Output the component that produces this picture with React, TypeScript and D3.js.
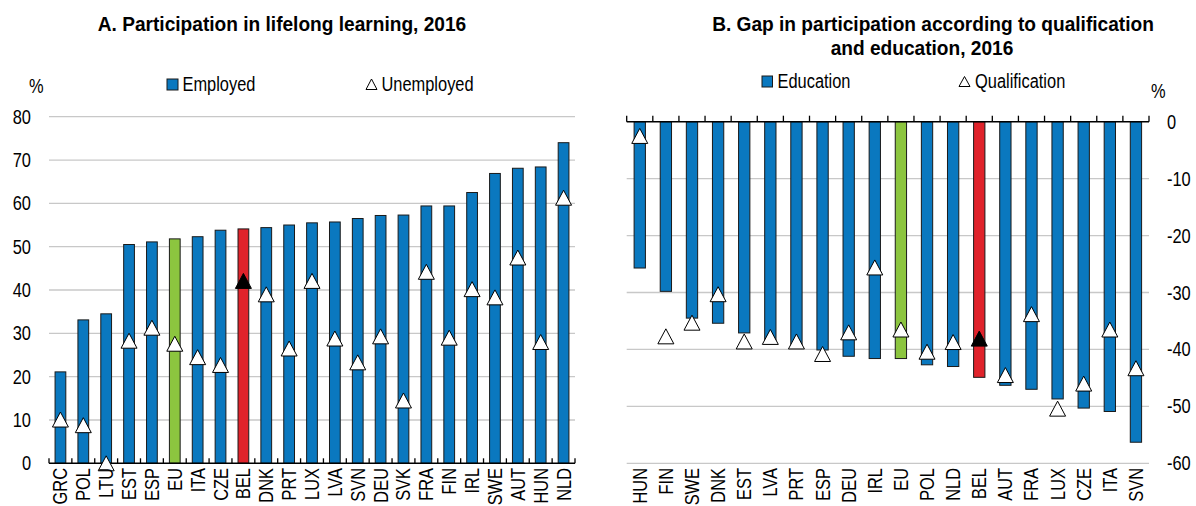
import React, { useEffect, useRef } from "react";
import * as d3 from "d3";

// Panel A: participation in lifelong learning, 2016 (%)
const countriesA = ["GRC", "POL", "LTU", "EST", "ESP", "EU", "ITA", "CZE", "BEL", "DNK", "PRT", "LUX", "LVA", "SVN", "DEU", "SVK", "FRA", "FIN", "IRL", "SWE", "AUT", "HUN", "NLD"];
const employed = [21.1, 33.1, 34.5, 50.5, 51.1, 51.8, 52.3, 53.8, 54.1, 54.4, 55.0, 55.5, 55.7, 56.5, 57.2, 57.3, 59.4, 59.4, 62.5, 66.9, 68.1, 68.4, 74.0];
const unemployed = [10.1, 8.8, 0, 28.3, 31.3, 27.6, 24.5, 22.7, 42.1, 39.0, 26.5, 42.1, 28.8, 23.3, 29.3, 14.5, 44.2, 29.0, 40.2, 38.3, 47.5, 28.0, 61.3];
const ticksA = [0, 10, 20, 30, 40, 50, 60, 70, 80];

// Panel B: gap in participation according to qualification and education, 2016
const countriesB = ["HUN", "FIN", "SWE", "DNK", "EST", "LVA", "PRT", "ESP", "DEU", "IRL", "EU", "POL", "NLD", "BEL", "AUT", "FRA", "LUX", "CZE", "ITA", "SVN"];
const education = [-25.7, -29.8, -34.5, -35.4, -37.1, -38.5, -39.3, -40.1, -41.2, -41.6, -41.6, -42.7, -43.0, -44.9, -46.3, -47.0, -48.7, -50.3, -50.9, -56.3];
const qualification = [-2.5, -37.7, -35.3, -30.3, -38.6, -37.8, -38.6, -40.8, -37.0, -25.6, -36.5, -40.4, -38.7, -38.1, -44.5, -33.8, -50.4, -46.0, -36.5, -43.3];
const ticksB = [0, -10, -20, -30, -40, -50, -60];

const BLUE = "#0a78bf";
const GREEN = "#8cc53f";
const RED = "#e0232b";
const GRID = "#c8c8c8";
const FONT = "'Liberation Sans', Arial, sans-serif";

const barColor = (c: string) => (c === "EU" ? GREEN : c === "BEL" ? RED : BLUE);
const tri = "M0,-7.5L8,7.5L-8,7.5Z";

// squeeze text horizontally to mimic Arial Narrow
function narrow(sel: any, k = 0.82) {
  sel.each(function (this: SVGTextElement) {
    const w = this.getComputedTextLength();
    d3.select(this).attr("textLength", w * k).attr("lengthAdjust", "spacingAndGlyphs");
  });
}

const App = () => {
  const svgRef = useRef<SVGSVGElement>(null);

  useEffect(() => {
    const svg = d3.select(svgRef.current);
    svg.selectAll("*").remove();
    svg.style("font-family", FONT);

    const text = (x: number, y: number, s: string, opts: any = {}) => {
      const t = svg
        .append("text")
        .attr("x", x)
        .attr("y", y)
        .attr("font-size", opts.size || 20)
        .attr("font-weight", opts.bold ? "bold" : "normal")
        .attr("text-anchor", opts.anchor || "start")
        .attr("fill", "#000")
        .text(s);
      narrow(t, opts.k || 0.82);
      return t;
    };
    const title = (x: number, y: number, s: string) => text(x, y, s, { bold: true, anchor: "middle", size: 21, k: 0.91 });

    // ---------- Panel A ----------
    const xA = d3.scaleBand().domain(countriesA).range([49, 575]).paddingInner(0.53).paddingOuter(0.265);
    const yA = d3.scaleLinear().domain([0, 80]).range([463.3, 116.7]);
    const stepA = xA.step();

    title(282, 31, "A. Participation in lifelong learning, 2016");

    svg
      .append("g")
      .selectAll("line")
      .data(ticksA.filter((d) => d > 0))
      .join("line")
      .attr("x1", 49)
      .attr("x2", 575)
      .attr("y1", (d) => yA(d))
      .attr("y2", (d) => yA(d))
      .attr("stroke", GRID)
      .attr("stroke-width", 1.3);

    ticksA.forEach((d) => text(31, yA(d) + 7, String(d), { anchor: "end" }));
    text(29, 93, "%");

    svg
      .append("g")
      .selectAll("rect")
      .data(countriesA)
      .join("rect")
      .attr("x", (d) => xA(d)!)
      .attr("width", xA.bandwidth())
      .attr("y", (d, i) => yA(employed[i]))
      .attr("height", (d, i) => yA(0) - yA(employed[i]))
      .attr("fill", (d) => barColor(d))
      .attr("stroke", "#1a1a1a")
      .attr("stroke-width", 1);

    // axis at 0
    svg.append("line").attr("x1", 49).attr("x2", 575).attr("y1", yA(0)).attr("y2", yA(0)).attr("stroke", "#000").attr("stroke-width", 1.5);
    d3.range(countriesA.length + 1).forEach((i) => {
      const x = 49 + i * stepA;
      svg.append("line").attr("x1", x).attr("x2", x).attr("y1", yA(0) - 5).attr("y2", yA(0)).attr("stroke", "#000").attr("stroke-width", 1.3);
    });

    svg
      .append("g")
      .selectAll("path")
      .data(countriesA)
      .join("path")
      .attr("d", tri)
      .attr("transform", (d, i) => `translate(${xA(d)! + xA.bandwidth() / 2},${yA(unemployed[i])})`)
      .attr("fill", (d) => (d === "BEL" ? "#000" : "#fff"))
      .attr("stroke", "#000")
      .attr("stroke-width", 1);

    countriesA.forEach((c) => {
      const cx = xA(c)! + xA.bandwidth() / 2 + 7;
      const t = text(cx, 468, c, { anchor: "end" });
      t.attr("transform", `rotate(-90,${cx},468)`);
    });

    // legend A
    svg.append("rect").attr("x", 167).attr("y", 79).attr("width", 11).attr("height", 11).attr("fill", BLUE).attr("stroke", "#1a1a1a");
    text(182.5, 91, "Employed");
    svg.append("path").attr("d", "M371.5,79L377,89.5L366,89.5Z").attr("fill", "#fff").attr("stroke", "#000").attr("stroke-width", 1);
    text(381.5, 91, "Unemployed");

    // ---------- Panel B ----------
    const xB = d3.scaleBand().domain(countriesB).range([626.7, 1149]).paddingInner(0.567).paddingOuter(0.2835);
    const yB = d3.scaleLinear().domain([-60, 0]).range([463.3, 121.7]);
    const stepB = xB.step();

    title(933, 31, "B. Gap in participation according to qualification");
    title(922, 55, "and education, 2016");

    svg
      .append("g")
      .selectAll("line")
      .data(ticksB.filter((d) => d < 0))
      .join("line")
      .attr("x1", 626.7)
      .attr("x2", 1149)
      .attr("y1", (d) => yB(d))
      .attr("y2", (d) => yB(d))
      .attr("stroke", GRID)
      .attr("stroke-width", 1.3);

    ticksB.forEach((d) => text(1167, yB(d) + 7, String(d)));
    text(1151, 98, "%");

    svg
      .append("g")
      .selectAll("rect")
      .data(countriesB)
      .join("rect")
      .attr("x", (d) => xB(d)!)
      .attr("width", xB.bandwidth())
      .attr("y", yB(0))
      .attr("height", (d, i) => yB(education[i]) - yB(0))
      .attr("fill", (d) => barColor(d))
      .attr("stroke", "#1a1a1a")
      .attr("stroke-width", 1);

    svg.append("line").attr("x1", 626.7).attr("x2", 1149).attr("y1", yB(0)).attr("y2", yB(0)).attr("stroke", "#000").attr("stroke-width", 1.5);
    d3.range(countriesB.length + 1).forEach((i) => {
      const x = 626.7 + i * stepB;
      svg.append("line").attr("x1", x).attr("x2", x).attr("y1", yB(0) - 6).attr("y2", yB(0)).attr("stroke", "#000").attr("stroke-width", 1.3);
    });

    svg
      .append("g")
      .selectAll("path")
      .data(countriesB)
      .join("path")
      .attr("d", tri)
      .attr("transform", (d, i) => `translate(${xB(d)! + xB.bandwidth() / 2},${yB(qualification[i])})`)
      .attr("fill", (d) => (d === "BEL" ? "#000" : "#fff"))
      .attr("stroke", "#000")
      .attr("stroke-width", 1);

    countriesB.forEach((c) => {
      const cx = xB(c)! + xB.bandwidth() / 2 + 7;
      const t = text(cx, 468, c, { anchor: "end" });
      t.attr("transform", `rotate(-90,${cx},468)`);
    });

    // legend B
    svg.append("rect").attr("x", 762).attr("y", 76).attr("width", 10.5).attr("height", 11).attr("fill", BLUE).attr("stroke", "#1a1a1a");
    text(777.5, 88, "Education");
    svg.append("path").attr("d", "M964.5,76.5L970,86.5L959,86.5Z").attr("fill", "#fff").attr("stroke", "#000").attr("stroke-width", 1);
    text(975, 88, "Qualification");
  }, []);

  return (
    <svg
      ref={svgRef}
      width={1196}
      height={506}
      style={{ position: "absolute", left: 0, top: 0, background: "#fff" }}
    />
  );
};

export default App;
